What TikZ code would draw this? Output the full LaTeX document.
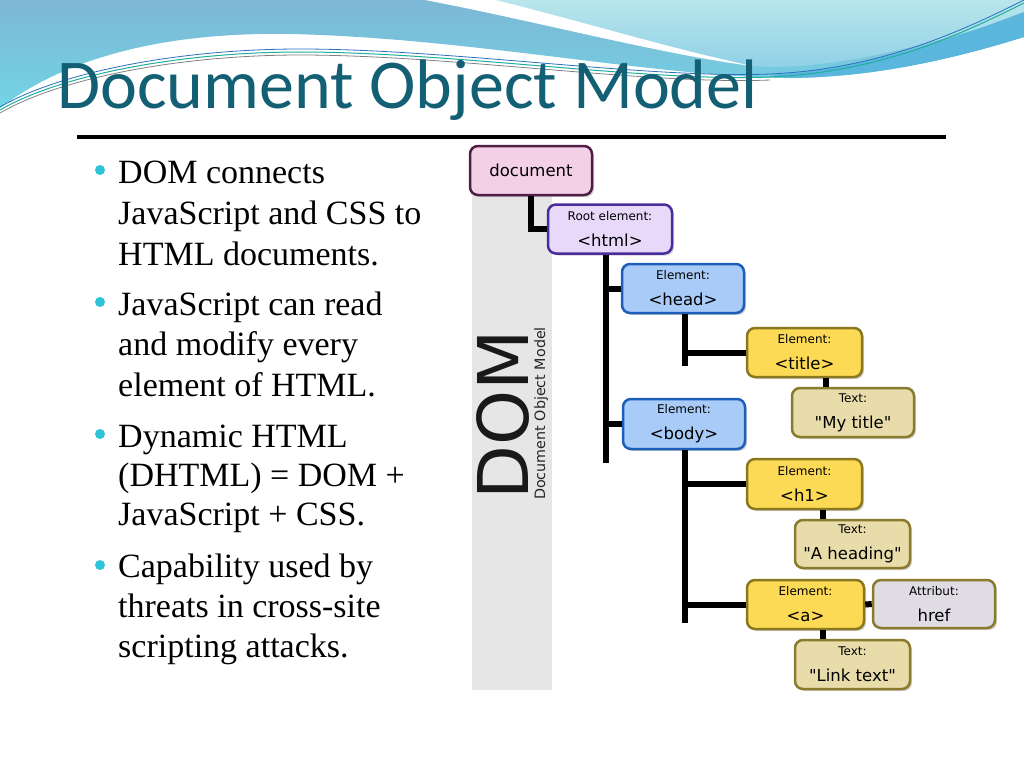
\documentclass[tikz,border=0pt]{standalone}
\usepackage{fontspec}
\setmainfont{Liberation Serif}
\newfontfamily\titlefont{Carlito}
\newfontfamily\treefont{DejaVu Sans}
\usetikzlibrary{shadows}

\definecolor{titleteal}{HTML}{135F74}
\definecolor{bannertop}{HTML}{7DB7D5}
\definecolor{bannerlow}{HTML}{72D4E4}
\definecolor{lighttop}{HTML}{B8E6EB}
\definecolor{lightlow}{HTML}{8ECFE7}
\definecolor{stripeblue}{HTML}{5AB6DD}
\definecolor{lineteal}{HTML}{1EAE9C}
\definecolor{lineblue}{HTML}{2A6FC0}
\definecolor{bulletcyan}{HTML}{2DC3D8}
\definecolor{grayband}{HTML}{E6E6E6}
\definecolor{docfill}{HTML}{F3D0E6}
\definecolor{docline}{HTML}{4E1E44}
\definecolor{rootfill}{HTML}{E8D9FB}
\definecolor{rootline}{HTML}{4A2D9B}
\definecolor{headfill}{HTML}{A8CBF8}
\definecolor{headline}{HTML}{1D5EB8}
\definecolor{elemfill}{HTML}{FDDA55}
\definecolor{elemline}{HTML}{8A7820}
\definecolor{textfill}{HTML}{E8DCAA}
\definecolor{textline}{HTML}{8A7A2E}
\definecolor{attrfill}{HTML}{E0DCE4}

\newcommand{\boxlabel}[2]{{\fontsize{12}{14}\selectfont #1}\\[6pt]#2}

\tikzset{
  treebox/.style={draw, rounded corners=8pt, line width=2.5pt, inner sep=0pt,
    minimum height=49pt, align=center, font=\treefont\fontsize{16.5}{20}\selectfont,
    drop shadow={opacity=0.35, shadow xshift=2pt, shadow yshift=-2pt}},
  docbox/.style={treebox, fill=docfill, draw=docline, minimum width=122pt},
  rootbox/.style={treebox, fill=rootfill, draw=rootline, minimum width=124pt},
  bluebox/.style={treebox, fill=headfill, draw=headline, minimum width=122pt},
  yellowbox/.style={treebox, fill=elemfill, draw=elemline, minimum width=115pt},
  textbox/.style={treebox, fill=textfill, draw=textline, minimum width=115pt},
  attrbox/.style={treebox, fill=attrfill, draw=textline, minimum width=122pt},
  conn/.style={line width=6pt},
  bulletline/.style={anchor=base west, inner sep=0pt, font=\fontsize{34}{40}\selectfont},
  bulletdot/.style={circle, fill=bulletcyan, inner sep=0pt, minimum size=10pt}
}

\begin{document}
\begin{tikzpicture}[x=1pt, y=-1pt]
\useasboundingbox (0,0) rectangle (1024,768);

% banner
\shade[top color=bannertop, bottom color=bannerlow] (0,0) -- (1024,0) -- (1024,37) .. controls (950,60) and (870,78) .. (785,78) .. controls (650,76) and (470,38) .. (290,34) .. controls (170,32) and (70,55) .. (0,108) -- cycle;
\shade[top color=lighttop, bottom color=lightlow] (470,0) .. controls (560,25) and (660,55) .. (750,66) .. controls (830,72) and (930,45) .. (1024,14) -- (1024,0) -- cycle;
\fill[white] (425,0) .. controls (540,22) and (650,52) .. (752,66) .. controls (660,46) and (570,18) .. (495,0) -- cycle;
\fill[stripeblue] (770,75) .. controls (880,66) and (960,36) .. (1024,12) -- (1024,37) .. controls (950,60) and (870,78) .. (785,78) -- cycle;
\draw[lineteal, line width=1pt] (0,110) .. controls (60,75) and (180,52) .. (300,52) .. controls (450,52) and (650,82) .. (770,77) .. controls (880,72) and (960,35) .. (1024,3);
\draw[lineblue, line width=0.8pt, yshift=3pt] (0,110) .. controls (60,75) and (180,52) .. (300,52) .. controls (450,52) and (650,82) .. (770,77) .. controls (880,72) and (960,35) .. (1024,3);
\draw[gray, line width=0.8pt, yshift=-3pt] (0,110) .. controls (60,75) and (180,52) .. (300,52) .. controls (450,52) and (650,82) .. (770,77);

% title
\node (title) at (57,108) [anchor=base west, inner sep=0pt, text=titleteal, font=\titlefont\fontsize{70}{80}\selectfont] {Document Object Model};
\draw[line width=4pt] (77,136.5) -- (946,136.5);

% bullets
\node (dot1) at (100,170) [bulletdot] {};
\node (dot2) at (100,302) [bulletdot] {};
\node (dot3) at (100,434) [bulletdot] {};
\node (dot4) at (100,565) [bulletdot] {};
\foreach \y/\t [count=\i] in {183/DOM connects, 224/JavaScript and CSS to, 265/HTML documents.,
  315/JavaScript can read, 355/and modify every, 396/element of HTML.,
  447/Dynamic HTML, 486/(DHTML) = DOM +, 525/JavaScript + CSS.,
  577/Capability used by, 617/threats in cross-site, 657/scripting attacks.}
  \node (line\i) at (118,\y) [bulletline] {\t};

% DOM band
\fill[grayband] (472,195) rectangle (552,690);
\node (dom) at (528,500) [rotate=90, anchor=base west, inner sep=0pt, font=\treefont\fontsize{70}{80}\selectfont, text=black!90] {DOM};
\node (domsub) at (545,500) [rotate=90, anchor=base west, inner sep=0pt, font=\treefont\fontsize{14.3}{16}\selectfont, text=black!85] {Document Object Model};

% tree
\node (doc) at (531,170.5) [docbox] {document};
\node (html) at (610,229) [rootbox] {\boxlabel{Root element:}{<html>}};
\node (head) at (683,288.5) [bluebox] {\boxlabel{Element:}{<head>}};
\node (body) at (684,424) [bluebox, minimum height=50pt] {\boxlabel{Element:}{<body>}};
\node (ttl) at (804.5,352.5) [yellowbox] {\boxlabel{Element:}{<title>}};
\node (mytitle) at (853,412.5) [textbox, minimum width=122pt] {\boxlabel{Text:}{"My title"}};
\node (h1) at (804.5,484) [yellowbox, minimum height=50pt] {\boxlabel{Element:}{<h1>}};
\node (heading) at (852.5,544) [textbox, minimum height=48pt] {\boxlabel{Text:}{"A heading"}};
\node (a) at (805.5,604.5) [yellowbox, minimum width=117pt] {\boxlabel{Element:}{<a>}};
\node (link) at (852.5,664.5) [textbox] {\boxlabel{Text:}{"Link text"}};
\node (href) at (934,604) [attrbox, minimum height=48pt] {\boxlabel{Attribut:}{href}};

\coordinate (htmlend) at (606,463);
\coordinate (headend) at (685,366);
\coordinate (bodyend) at (685,623);

\draw[conn] (doc.south) |- (html.west);
\draw[conn] (html.south -| htmlend) -- (htmlend);
\draw[conn] (head.west) -- (head.west -| htmlend);
\draw[conn] (body.west) -- (body.west -| htmlend);
\draw[conn] (head.south -| headend) -- (headend);
\draw[conn] (ttl.west) -- (ttl.west -| headend);
\draw[conn] (body.south -| bodyend) -- (bodyend);
\draw[conn] (h1.west) -- (h1.west -| bodyend);
\draw[conn] (a.west) -- (a.west -| bodyend);
\draw[conn] ([xshift=21.5pt]ttl.south) -- ([xshift=-27pt]mytitle.north);
\draw[conn] ([xshift=18.5pt]h1.south) -- ([xshift=-29.5pt]heading.north);
\draw[conn] ([xshift=17.5pt]a.south) -- ([xshift=-29.5pt]link.north);
\draw[conn] (a.east) -- (href.west);
\end{tikzpicture}
\end{document}
